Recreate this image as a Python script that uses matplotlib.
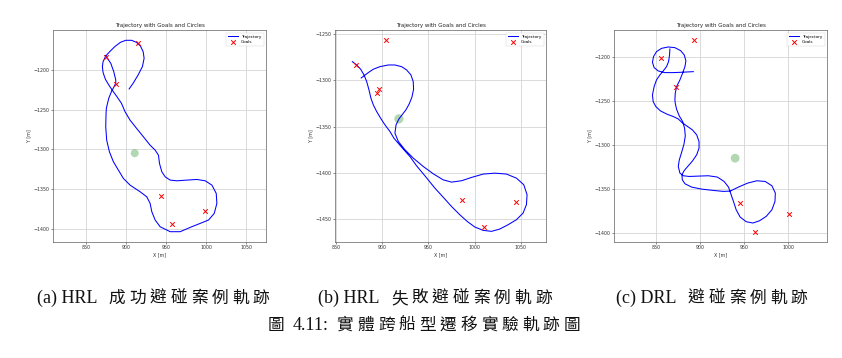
import matplotlib
matplotlib.use("Agg")
import matplotlib.pyplot as plt
from matplotlib.patches import Circle
from matplotlib.ticker import MultipleLocator

# ---------------- data ----------------
traj1 = [(903.8,-1224.2),(908.8,-1217.1),(915.0,-1206.7),(920.4,-1196.2),(922.5,-1185.8),(921.3,-1177.5),
         (917.9,-1170.4),(912.9,-1165.8),(906.7,-1163.3),(899.6,-1163.3),(893.0,-1165.8),(885.9,-1171.2),
         (879.6,-1177.5),(874.6,-1182.9),(871.3,-1190.0),(870.4,-1196.2),(871.3,-1203.7),(874.2,-1212.1),
         (878.4,-1219.2),(882.5,-1225.4),(887.9,-1232.9),(894.2,-1242.1),(898.8,-1252.9),(905.0,-1263.3),
         (913.3,-1273.8),(921.7,-1284.2),(930.0,-1294.6),(936.3,-1300.8),(940.4,-1307.1),(941.7,-1317.5),
         (944.6,-1327.9),(948.8,-1334.2),(955.0,-1338.3),(963.3,-1339.2),(975.8,-1338.3),(988.3,-1337.5),
         (998.8,-1339.2),(1007.1,-1344.6),(1012.5,-1355.0),(1013.3,-1367.5),(1010.0,-1380.0),(1002.9,-1388.3),
         (992.5,-1392.5),(980.0,-1397.5),(967.5,-1402.9),(955.0,-1402.9),(942.5,-1396.7),(936.3,-1388.3),
         (932.1,-1377.9),(930.0,-1367.5),(925.8,-1359.2),(917.5,-1352.9),(905.0,-1344.6),(896.7,-1336.3),
         (890.4,-1325.8),(884.2,-1315.4),(879.2,-1302.9),(875.8,-1288.3),(874.6,-1271.7),(875.0,-1255.0),
         (875.4,-1248.3),(878.4,-1235.8),(881.7,-1227.5),(884.6,-1222.1),(887.1,-1217.1),(887.1,-1212.9),
         (884.6,-1202.5),(880.9,-1192.1),(877.5,-1187.1),(874.6,-1182.9)]
goals1 = [(915.0,-1167.1),(874.6,-1183.8),(887.9,-1218.3),(943.8,-1358.3),(957.5,-1392.9),(998.3,-1377.1)]
circle1 = (910.8, -1304.6)

traj2 = [(867.7,-1279.9),(872.3,-1283.5),(876.7,-1288.1),(880.3,-1294.2),(883.2,-1301.4),(885.7,-1310.4),
         (887.8,-1319.4),(890.4,-1326.6),(894.0,-1333.8),(898.3,-1341.0),(903.0,-1348.2),(908.4,-1355.4),
         (912.7,-1362.6),(921.0,-1372.3),(930.0,-1382.4),(937.2,-1392.4),(946.2,-1403.2),(957.0,-1416.5),
         (966.0,-1426.3),(975.0,-1436.3),(984.0,-1445.3),(992.0,-1452.5),(1000.3,-1458.6),(1009.3,-1462.2),
         (1018.4,-1463.3),(1027.3,-1460.8),(1036.4,-1456.1),(1045.4,-1450.7),(1052.6,-1443.5),(1056.2,-1434.5),
         (1056.9,-1423.7),(1053.3,-1412.9),(1045.4,-1405.8),(1034.6,-1401.4),(1022.0,-1400.4),(1009.4,-1401.4),
         (996.8,-1405.0),(986.0,-1408.6),(975.1,-1410.1),(966.0,-1407.6),(955.3,-1401.1),(944.5,-1393.2),
         (933.7,-1384.2),(924.7,-1375.2),(917.5,-1366.2),(913.8,-1357.2),(915.0,-1348.2),(918.2,-1341.7),
         (922.9,-1335.6),(925.7,-1332.0),(929.3,-1325.5),(932.2,-1318.3),(934.0,-1309.7),(933.6,-1301.4),
         (931.1,-1294.2),(926.4,-1288.8),(921.0,-1285.3),(913.8,-1283.5),(906.6,-1283.5),(897.6,-1285.3),
         (890.4,-1288.1),(885.0,-1291.7),(880.3,-1295.3),(877.3,-1297.5)]
goals2 = [(871.3,-1283.5),(904.1,-1256.5),(896.5,-1309.4),(894.0,-1313.3),(986.9,-1429.1),(1010.7,-1458.6),
          (1044.6,-1431.7)]
circle2 = (918.1, -1341.7)

traj3 = [(865.6,-1190.9),(865.2,-1197.7),(864.1,-1205.3),(861.8,-1211.0),(858.0,-1215.9),(854.2,-1220.5),
         (850.4,-1226.1),(847.7,-1233.7),(845.8,-1243.2),(846.6,-1250.8),(849.6,-1256.4),(854.9,-1261.4),
         (862.5,-1265.2),(869.4,-1267.8),(875.1,-1270.5),(878.9,-1274.2),(884.6,-1278.4),(891.1,-1282.9),
         (896.0,-1288.6),(898.7,-1296.2),(898.7,-1303.8),(896.0,-1311.4),(891.4,-1318.2),(886.5,-1323.9),
         (881.9,-1329.2),(879.3,-1334.1),(879.7,-1339.8),(882.7,-1344.3),(890.3,-1348.1),(901.7,-1350.4),
         (915.0,-1351.9),(926.4,-1353.0),(934.0,-1352.7),(943.5,-1348.1),(953.8,-1343.6),(964.4,-1340.9),
         (973.9,-1341.7),(981.5,-1346.6),(985.4,-1354.9),(985.0,-1364.4),(981.5,-1373.9),(975.1,-1381.4),
         (967.5,-1386.4),(959.9,-1389.0),(952.3,-1387.5),(945.4,-1382.2),(940.9,-1373.9),(937.8,-1364.4),
         (934.8,-1355.7),(932.2,-1348.1),(927.2,-1341.7),(919.6,-1336.7),(909.3,-1335.2),(897.9,-1335.6),
         (887.6,-1336.0),(880.8,-1335.2),(877.0,-1332.2),(875.1,-1324.6),(876.3,-1317.1),(878.9,-1308.7),
         (881.6,-1299.2),(883.1,-1289.8),(882.3,-1281.1),(880.1,-1273.5),(876.2,-1267.0),(873.2,-1259.5),
         (871.7,-1252.7),(871.3,-1248.9),(871.7,-1241.3),(873.2,-1233.7),(877.0,-1226.1),(880.0,-1218.6),
         (882.7,-1211.0),(883.8,-1204.5),(881.9,-1197.7),(877.8,-1192.8),(871.3,-1189.4),(863.7,-1188.6),
         (856.1,-1190.2),(850.4,-1193.9),(847.0,-1199.6),(845.8,-1206.1),(847.7,-1212.1),(852.3,-1215.9),
         (859.9,-1217.8),(869.4,-1217.8),(878.9,-1217.4),(892.2,-1216.7)]
goals3 = [(893.3,-1181.1),(855.3,-1201.5),(872.8,-1234.5),(945.1,-1365.9),(962.5,-1399.2),(1000.6,-1378.4)]
circle3 = (939.7, -1315.2)
circle_radius = 5.0

title = "Trajectory with Goals and Circles"
xlabel = "X [m]"
ylabel = "Y [m]"
legend_labels = ["Trajectory", "Goals"]
sub_captions = ["(a) HRL 成功避碰案例軌跡", "(b) HRL 失敗避碰案例軌跡", "(c) DRL 避碰案例軌跡"]
fig_caption = "圖 4.11: 實體跨船型遷移實驗軌跡圖"

# ---------------- layout ----------------
W, H = 842, 358
fig = plt.figure(figsize=(W / 100, H / 100), dpi=100)
fig.patch.set_facecolor("white")

panels = [
    dict(traj=traj1, goals=goals1, circle=circle1, box=(53, 30, 213, 212),
         xlim=(808.8, 1074.6), ylim=(-1415.8, -1150.4)),
    dict(traj=traj2, goals=goals2, circle=circle2, box=(335, 30, 211, 212),
         xlim=(848.9, 1077.4), ylim=(-1474.8, -1245.7)),
    dict(traj=traj3, goals=goals3, circle=circle3, box=(614, 30, 213, 212),
         xlim=(802.1, 1044.1), ylim=(-1410.6, -1169.3)),
]

for p in panels:
    l, t, w, h = p["box"]
    ax = fig.add_axes([l / W, 1 - (t + h) / H, w / W, h / H])
    xs = [q[0] for q in p["traj"]]
    ys = [q[1] for q in p["traj"]]
    ax.plot(xs, ys, color="blue", lw=0.75, label=legend_labels[0], zorder=3)
    gx = [q[0] for q in p["goals"]]
    gy = [q[1] for q in p["goals"]]
    ax.scatter(gx, gy, marker="x", color="red", s=11, linewidths=0.7, label=legend_labels[1], zorder=4)
    ax.add_patch(Circle(p["circle"], circle_radius, color="green", alpha=0.3, lw=0, zorder=2))
    ax.set_xlim(*p["xlim"])
    ax.set_ylim(*p["ylim"])
    ax.xaxis.set_major_locator(MultipleLocator(50))
    ax.yaxis.set_major_locator(MultipleLocator(50))
    ax.grid(True, color="#d4d4d4", lw=0.6)
    ax.set_axisbelow(True)
    for s in ax.spines.values():
        s.set_color("#606060")
        s.set_linewidth(0.5)
    ax.tick_params(labelsize=3.4, length=1.3, width=0.4, pad=1.2, colors="#333333")
    ax.set_title(title, fontsize=4.0, pad=2.0, color="#222222")
    ax.set_xlabel(xlabel, fontsize=3.4, labelpad=1.0, color="#333333")
    ax.set_ylabel(ylabel, fontsize=3.4, labelpad=1.5, color="#333333")
    leg = ax.legend(loc="upper right", fontsize=3.0, frameon=True, handlelength=2.4,
                    borderpad=0.5, labelspacing=0.4, handletextpad=0.8, borderaxespad=0.6,
                    fancybox=True, framealpha=0.9)
    leg.get_frame().set_linewidth(0.3)
    leg.get_frame().set_edgecolor("#cccccc")

# ---------------- captions with CJK tracking ----------------
renderer = fig.canvas.get_renderer()
LATIN = ["Liberation Serif", "Noto Sans CJK TC"]
CJK = ["Noto Sans CJK TC", "Liberation Serif"]


def draw_tracked(cx, baseline, s, latin_size, cjk_size, cjk_adv, boundary_gap):
    # each CJK char placed on its own with a fixed advance; Latin chars grouped
    runs = []
    for ch in s:
        is_cjk = ord(ch) > 0x2E80
        if runs and not is_cjk and runs[-1][1] == "latin":
            runs[-1][0] += ch
        else:
            runs.append([ch, "cjk" if is_cjk else "latin"])
    items = []
    for txt, kind in runs:
        if kind == "cjk":
            t = fig.text(0, 1 - baseline / H, txt, fontsize=cjk_size, family=CJK,
                         ha="left", va="baseline", color="#111111")
            w = t.get_window_extent(renderer).width
            items.append((t, (cjk_adv - w) / 2, cjk_adv))
        else:
            lead = txt != txt.lstrip(" ")
            trail = txt != txt.rstrip(" ")
            core = txt.strip(" ")
            if lead:
                items.append((None, 0, boundary_gap))
            t = fig.text(0, 1 - baseline / H, core, fontsize=latin_size, family=LATIN,
                         ha="left", va="baseline", color="#111111")
            items.append((t, 0, t.get_window_extent(renderer).width))
            if trail:
                items.append((None, 0, boundary_gap))
    total = sum(a for _, _, a in items)
    x = cx - total / 2
    for t, off, adv in items:
        if t is not None:
            t.set_x((x + off) / W)
        x += adv


draw_tracked(154, 303, sub_captions[0], 13, 12, 20.6, 9)
draw_tracked(436, 303, sub_captions[1], 13, 12, 20.6, 9)
draw_tracked(713, 303, sub_captions[2], 13, 12, 20.6, 9)
draw_tracked(424, 330, fig_caption, 13, 12, 20.6, 6)

fig.savefig("out.png", dpi=100, facecolor="white")
